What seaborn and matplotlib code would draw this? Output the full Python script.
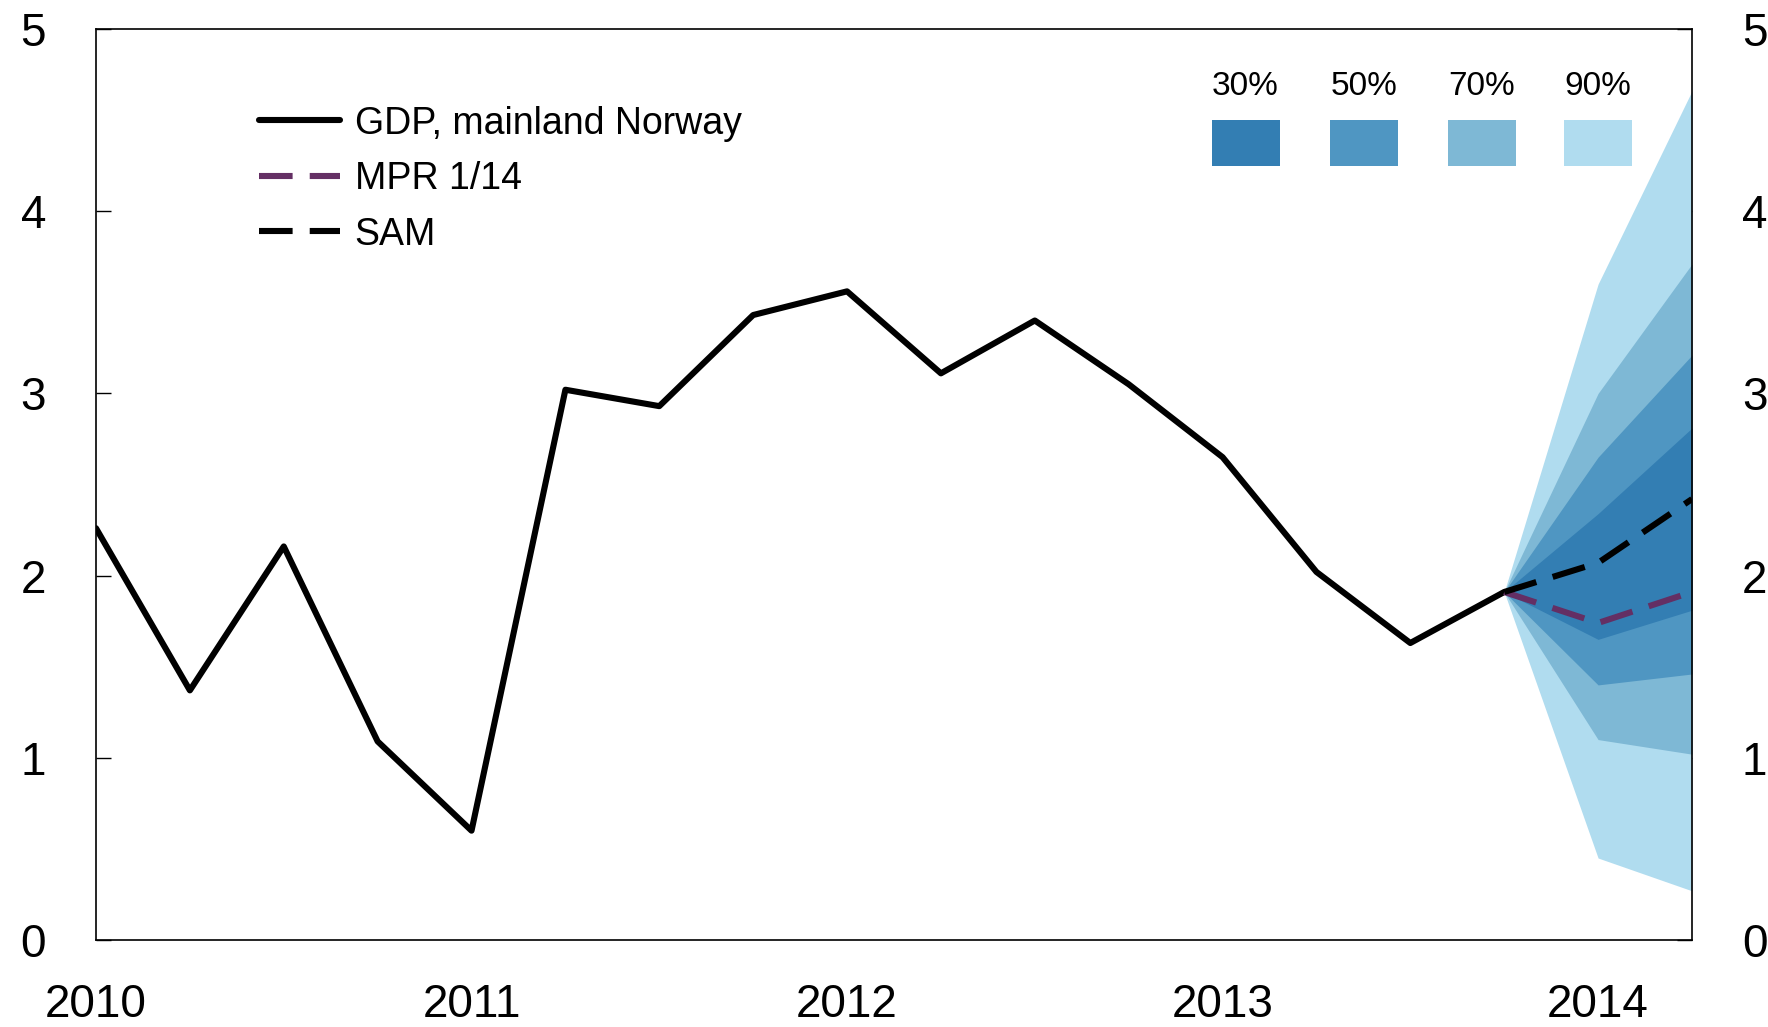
import pandas as pd
import matplotlib.pyplot as plt
import matplotlib.patches as mpatches
import seaborn as sns

# Quarterly GDP, mainland Norway (4-quarter growth, %)
gdp_quarters = ["2010Q1", "2010Q2", "2010Q3", "2010Q4", "2011Q1", "2011Q2", "2011Q3", "2011Q4",
                "2012Q1", "2012Q2", "2012Q3", "2012Q4", "2013Q1", "2013Q2", "2013Q3", "2013Q4"]
gdp_values = [2.26, 1.37, 2.16, 1.09, 0.60, 3.02, 2.93, 3.43,
              3.56, 3.11, 3.40, 3.05, 2.65, 2.02, 1.63, 1.91]

# Projections
proj_quarters = ["2013Q4", "2014Q1", "2014Q2"]
mpr_values = [1.91, 1.74, 1.91]
sam_values = [1.91, 2.07, 2.42]

# Fan chart bands (lower, upper)
band_labels = ["90%", "70%", "50%", "30%"]
band_lower = {"90%": [1.91, 0.45, 0.27], "70%": [1.91, 1.10, 1.02],
              "50%": [1.91, 1.40, 1.46], "30%": [1.91, 1.65, 1.81]}
band_upper = {"90%": [1.91, 3.60, 4.66], "70%": [1.91, 3.00, 3.71],
              "50%": [1.91, 2.65, 3.21], "30%": [1.91, 2.34, 2.81]}
band_colors = {"30%": "#337eb3", "50%": "#4f96c2", "70%": "#7eb8d5", "90%": "#b0dcef"}

mpr_color = "#642f64"


def to_year(q):
    return int(q[:4]) + (int(q[-1]) - 1) / 4


df_gdp = pd.DataFrame({"x": [to_year(q) for q in gdp_quarters], "value": gdp_values})
df_proj = pd.DataFrame({"x": [to_year(q) for q in proj_quarters], "MPR": mpr_values, "SAM": sam_values})

sns.set_style("white")
plt.rcParams["font.family"] = ["Liberation Sans", "DejaVu Sans"]

fig = plt.figure(figsize=(17.68, 10.27), dpi=100)
ax = fig.add_axes([0.0543, 0.0847, 0.9027, 0.8871])

# fan bands, widest first
for lab in band_labels:
    ax.fill_between(df_proj["x"], band_lower[lab], band_upper[lab],
                    color=band_colors[lab], linewidth=0, zorder=1)

lw = 4.4
sns.lineplot(data=df_gdp, x="x", y="value", ax=ax, color="black", linewidth=lw,
             label="GDP, mainland Norway", zorder=3)
sns.lineplot(data=df_proj, x="x", y="MPR", ax=ax, color=mpr_color, linewidth=lw,
             label="MPR 1/14", zorder=3)
sns.lineplot(data=df_proj, x="x", y="SAM", ax=ax, color="black", linewidth=lw,
             label="SAM", zorder=4)
ax.lines[1].set_dashes((5.5, 2.8))
ax.lines[2].set_dashes((5.5, 2.8))

ax.set_xlim(2010, 2014.25)
ax.set_ylim(0, 5)
ax.set_xticks([2010, 2011, 2012, 2013, 2014])
ax.set_xticklabels(["2010", "2011", "2012", "2013", "2014"])
ax.set_yticks([0, 1, 2, 3, 4, 5])
ax.set_xlabel("")
ax.set_ylabel("")

ax.tick_params(axis="x", direction="in", length=11, width=1, pad=31, labelsize=33, colors="black")
ax.tick_params(axis="y", direction="in", length=11, width=1, pad=36, labelsize=33, colors="black",
               left=True, right=True, labelleft=True, labelright=True)

for s in ax.spines.values():
    s.set_color("black")
    s.set_linewidth(1.2)
    s.set_visible(True)

leg = ax.legend(loc="upper left", bbox_to_anchor=(0.081, 0.953), frameon=False, fontsize=27,
                handlelength=2.15, handletextpad=0.4, labelspacing=0.52, labelcolor="black")
for h in leg.get_lines():
    h.set_linewidth(lw)

# fan legend: labels above colour boxes
box_x = [0.699, 0.773, 0.847, 0.920]
for lab, x0 in zip(["30%", "50%", "70%", "90%"], box_x):
    ax.add_patch(mpatches.Rectangle((x0, 0.850), 0.0426, 0.0505, transform=ax.transAxes,
                                    facecolor=band_colors[lab], edgecolor="none", zorder=5))
    ax.text(x0 + 0.0213, 0.937, lab, transform=ax.transAxes, ha="center", va="center",
            fontsize=24, color="black")

fig.savefig("out.png", dpi=100)
